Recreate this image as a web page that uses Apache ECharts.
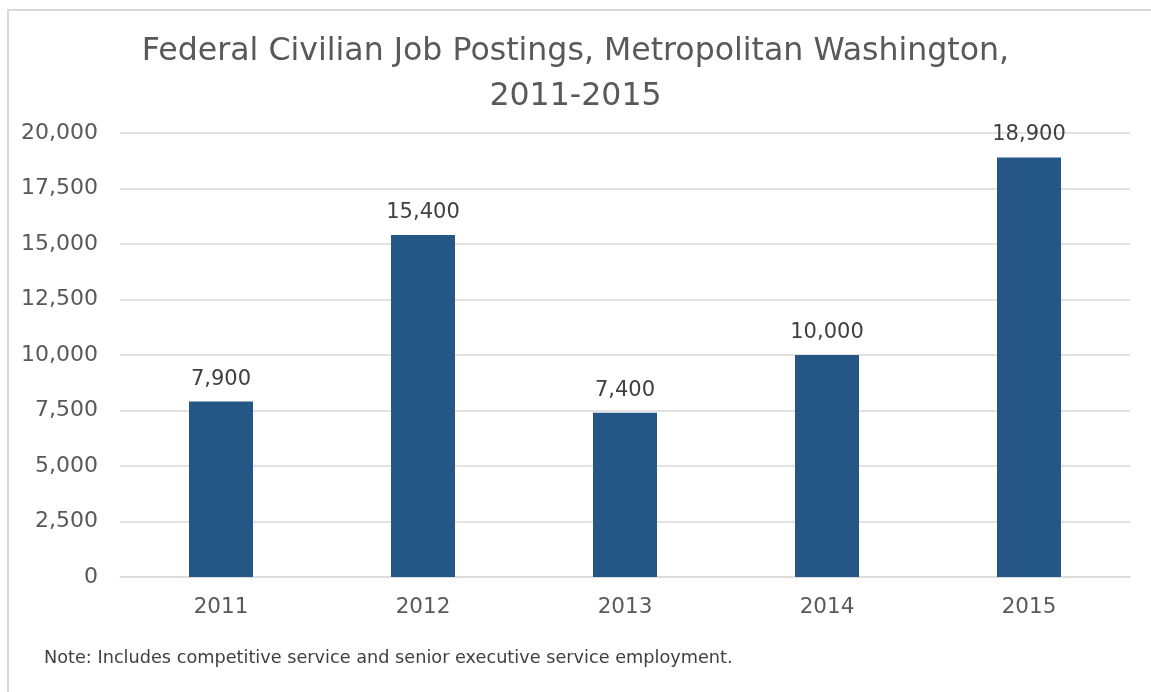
<!DOCTYPE html>
<html>
<head>
<meta charset="utf-8">
<script src="https://cdn.jsdelivr.net/npm/echarts@6/dist/echarts.min.js"></script>
<style>
html,body{margin:0;padding:0;background:#fff;}
#frame{position:absolute;left:7px;top:9px;width:1160px;height:700px;border-left:2px solid #d9d9d9;border-top:2px solid #d9d9d9;box-sizing:border-box;}
#chart{position:absolute;left:0;top:0;width:1151px;height:692px;}
</style>
</head>
<body>
<div id="frame"></div>
<div id="chart"></div>
<script>
const categories = ['2011', '2012', '2013', '2014', '2015'];
const postings = [7900, 15400, 7400, 10000, 18900];
const titleText = 'Federal Civilian Job Postings, Metropolitan Washington,\n2011-2015';
const noteText = 'Note: Includes competitive service and senior executive service employment.';

const chart = echarts.init(document.getElementById('chart'));
const font = 'DejaVu Sans, sans-serif';
chart.setOption({
  animation: false,
  title: {
    text: titleText,
    left: 'center',
    top: 24,
    textStyle: {fontFamily: font, fontSize: 31.6, fontWeight: 'normal', color: '#595959', lineHeight: 45}
  },
  graphic: [{
    type: 'text', left: 44, top: 649,
    style: {text: noteText, font: '17.7px ' + font, fill: '#404040'}
  }],
  grid: {left: 120, right: 21, top: 133, bottom: 115, containLabel: false},
  xAxis: {
    type: 'category', data: categories,
    axisLine: {lineStyle: {color: '#d9d9d9', width: 1.5}},
    axisTick: {show: false},
    axisLabel: {fontFamily: font, fontSize: 21.5, color: '#595959', margin: 19}
  },
  yAxis: {
    type: 'value', min: 0, max: 20000, interval: 2500,
    axisLine: {show: false}, axisTick: {show: false},
    splitLine: {lineStyle: {color: '#d9d9d9', width: 1.5}},
    axisLabel: {fontFamily: font, fontSize: 22, color: '#595959', margin: 22,
      formatter: v => v.toLocaleString('en-US')}
  },
  series: [{
    type: 'bar', data: postings, barWidth: 64,
    itemStyle: {color: '#245785'},
    label: {show: true, position: 'top', distance: 12, fontFamily: font, fontSize: 21, color: '#404040',
      formatter: p => p.value.toLocaleString('en-US')}
  }]
});
</script>
</body>
</html>
